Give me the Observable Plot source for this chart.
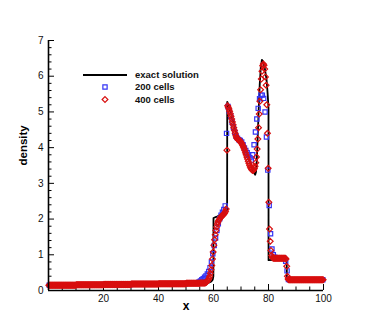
<!DOCTYPE html>
<html><head><meta charset="utf-8">
<script src="https://cdn.jsdelivr.net/npm/d3@7"></script>
<script src="https://cdn.jsdelivr.net/npm/@observablehq/plot@0.6"></script>
<style>body{margin:0;background:#fff} #chart{width:369px;height:328px}</style>
</head><body><div id="chart"></div>
<script>
// exact solution
const exactX = [0,10,20,30,40,50,55,57,58.3,59.2,59.7,59.95,60.0,61,62,63,64,64.95,65.0,65.3,66,67,68,69,70,71,72,73,74,74.7,75.15,75.45,75.75,76.05,76.4,76.8,77.2,77.6,78.0,78.6,79.3,79.7,80.0,80.02,82,84,86.6,86.7,100];
const exactY = [0.155,0.165,0.175,0.185,0.19,0.2,0.205,0.21,0.215,0.25,0.3,0.4,2.03,2.06,2.1,2.14,2.19,2.24,5.28,5.22,5.05,4.78,4.48,4.28,4.17,4.05,3.88,3.66,3.44,3.3,3.24,3.32,3.65,4.25,5.0,5.75,6.25,6.46,6.42,6.25,5.9,5.5,5.1,0.85,0.86,0.87,0.88,0.3,0.3];

// 200 cells: one density value per cell (cell centres on [0,100])
const cells200 = 200;
const y200 = [
.15,.15,.15,.15,.15,.15,.15,.15,.15,.15,.15,.15,.15,.15,.15,.15,.15,.15,.15,.15,
.16,.16,.16,.16,.16,.16,.16,.16,.16,.16,.16,.16,.16,.16,.16,.16,.16,.16,.16,.16,
.17,.17,.17,.17,.17,.17,.17,.17,.17,.17,.17,.17,.17,.17,.17,.17,.17,.17,.17,.17,
.18,.18,.18,.18,.18,.18,.18,.18,.18,.18,.18,.18,.18,.18,.18,.18,.18,.18,.18,.18,
.19,.19,.19,.19,.19,.19,.19,.19,.19,.19,.19,.19,.19,.19,.19,.19,.19,.19,.19,.19,
.20,.20,.20,.20,.20,.20,.20,.20,
.22,.24,.27,.30,.33,.37,.41,.46,.53,.64,.80,1.03,1.26,1.47,1.68,1.87,2.01,2.11,2.19,2.27,
2.37,4.40,5.15,5.02,4.88,4.72,4.57,4.43,4.32,4.26,4.22,4.20,4.16,4.08,3.99,3.92,3.86,3.79,3.72,3.65,
3.80,4.08,4.44,4.80,5.10,5.37,5.47,5.47,5.38,5.00,4.30,3.37,2.38,1.59,1.16,1.00,.93,
.90,.90,.90,.90,.90,.90,.90,
.82,.55,.31,
.30,.30,.30,.30,.30,.30,.30,.30,.30,.30,.30,.30,.30,.30,.30,.30,.30,.30,.30,.30,.30,.30,.30,.30,.30
];

// 400 cells
const cells400 = 400;
const y400 = [
.15,.15,.15,.15,.15,.15,.15,.15,.15,.15,.15,.15,.15,.15,.15,.15,.15,.15,.15,.15,
.15,.15,.15,.15,.15,.15,.15,.15,.15,.15,.15,.15,.15,.15,.15,.15,.15,.15,.15,.15,
.16,.16,.16,.16,.16,.16,.16,.16,.16,.16,.16,.16,.16,.16,.16,.16,.16,.16,.16,.16,
.16,.16,.16,.16,.16,.16,.16,.16,.16,.16,.16,.16,.16,.16,.16,.16,.16,.16,.16,.16,
.17,.17,.17,.17,.17,.17,.17,.17,.17,.17,.17,.17,.17,.17,.17,.17,.17,.17,.17,.17,
.17,.17,.17,.17,.17,.17,.17,.17,.17,.17,.17,.17,.17,.17,.17,.17,.17,.17,.17,.17,
.18,.18,.18,.18,.18,.18,.18,.18,.18,.18,.18,.18,.18,.18,.18,.18,.18,.18,.18,.18,
.18,.18,.18,.18,.18,.18,.18,.18,.18,.18,.18,.18,.18,.18,.18,.18,.18,.18,.18,.18,
.19,.19,.19,.19,.19,.19,.19,.19,.19,.19,.19,.19,.19,.19,.19,.19,.19,.19,.19,.19,
.19,.19,.19,.19,.19,.19,.19,.19,.19,.19,.19,.19,.19,.19,.19,.19,.19,.19,.19,.19,
.20,.20,.20,.20,.20,.20,.20,.20,.20,.20,.20,.20,.20,.20,.20,.20,.20,.20,.20,.20,
.21,.21,.21,.21,.21,.21,.21,.21,
.22,.23,.25,.27,.30,.34,.40,.48,.58,.70,.88,1.08,1.27,1.42,1.56,1.68,1.78,1.86,1.92,1.96,
1.99,2.02,2.05,2.07,2.09,2.11,2.13,2.15,2.18,2.22,2.28,3.93,
5.17,5.13,5.08,5.02,4.95,4.88,4.80,4.72,4.64,4.56,4.48,4.40,4.33,4.28,4.25,4.23,4.22,4.21,4.19,4.16,
4.13,4.10,4.06,4.02,3.97,3.92,3.86,3.80,3.74,3.68,3.62,3.56,3.51,3.46,3.42,3.39,3.37,3.36,3.38,3.42,
3.48,3.58,3.74,3.96,4.24,4.56,4.94,5.30,5.62,5.92,6.14,6.29,6.34,6.31,6.20,5.98,5.75,5.20,4.40,3.42,
2.47,1.72,1.38,1.12,.98,.93,.91,
.90,.90,.90,.90,.90,.90,.90,.90,.90,.90,.90,.90,.90,.90,.90,.90,.90,.90,
.88,.68,.40,.32,
.30,.30,.30,.30,.30,.30,.30,.30,.30,.30,.30,.30,.30,.30,.30,.30,.30,.30,.30,.30,
.30,.30,.30,.30,.30,.30,.30,.30,.30,.30,.30,.30,.30,.30,.30,.30,.30,.30,.30,.30,
.30,.30,.30,.30,.30,.30,.30,.30,.30,.30,.30
];

const xTicks = [20,40,60,80,100];
const xMinorTicks = [5,10,15,25,30,35,45,50,55,65,70,75,85,90,95];
const yTicks = [0,1,2,3,4,5,6,7];
const yMinorTicks = [0.2,0.4,0.6,0.8,1.2,1.4,1.6,1.8,2.2,2.4,2.6,2.8,3.2,3.4,3.6,3.8,4.2,4.4,4.6,4.8,5.2,5.4,5.6,5.8,6.2,6.4,6.6,6.8];
const seriesNames = ["exact solution","200 cells","400 cells"];

const exact = exactX.map((x,i)=>({x, y: exactY[i]}));
const d200 = y200.map((y,i)=>({x:(i+0.5)*100/cells200, y}));
const d400 = y400.map((y,i)=>({x:(i+0.5)*100/cells400, y}));

const W=369, H=328, mL=48, mR=46, mT=40, mB=38;
const pw=W-mL-mR, ph=H-mT-mB;
const BLUE="#3535f5", RED="#d80f0f";
const rSq=2.4, rDi=2.6;

const svg = Plot.plot({
  width:W, height:H, marginLeft:mL, marginRight:mR, marginTop:mT, marginBottom:mB,
  style:{fontFamily:"'Liberation Sans', Arial, sans-serif", fontSize:"10px", color:"#111", background:"#fff", overflow:"visible"},
  x:{domain:[0,100]}, y:{domain:[0,7]},
  marks:[
    Plot.axisX({ticks:xTicks, tickSize:0, tickPadding:4, label:null, tickFormat:"d"}),
    Plot.axisY({ticks:yTicks, tickSize:0, tickPadding:5, label:null, tickFormat:"d"}),
    Plot.tickX(xTicks, {x:d=>d, insetTop:ph-6, stroke:"#000", strokeWidth:1}),
    Plot.tickX(xMinorTicks, {x:d=>d, insetTop:ph-3.5, stroke:"#000", strokeWidth:1}),
    Plot.tickY(yTicks, {y:d=>d, insetRight:pw-6, stroke:"#000", strokeWidth:1}),
    Plot.tickY(yMinorTicks, {y:d=>d, insetRight:pw-3.5, stroke:"#000", strokeWidth:1}),
    Plot.line(exact, {x:"x", y:"y", stroke:"#000", strokeWidth:1.8}),
    Plot.dot(d200, {x:"x", y:"y", symbol:"square", r:rSq, stroke:BLUE, strokeWidth:1.2, fill:"none"}),
    Plot.dot(d400, {x:"x", y:"y", symbol:"diamond2", r:rDi, stroke:RED, strokeWidth:1.2, fill:"none"}),
    Plot.ruleX([0], {stroke:"#000", strokeWidth:1.6}),
    Plot.ruleY([0], {stroke:"#000", strokeWidth:1.6}),
    Plot.text(["x"], {frameAnchor:"bottom", dy:19, fontWeight:"bold", fontSize:12, fill:"#000"}),
    Plot.text(["density"], {frameAnchor:"left", dx:-25, rotate:-90, fontWeight:"bold", fontSize:11.5, fill:"#000"})
  ]
});
document.getElementById("chart").appendChild(svg);

// legend inside the plot area
const lg = d3.select(svg).append("g")
  .attr("font-family","'Liberation Sans', Arial, sans-serif")
  .attr("font-size","9.5px").attr("font-weight","bold").attr("fill","#111")
  .attr("text-anchor","start");
lg.append("line").attr("x1",83).attr("x2",127).attr("y1",75).attr("y2",75).attr("stroke","#000").attr("stroke-width",1.8);
lg.append("path").attr("d", d3.symbol(d3.symbolSquare, Math.PI*rSq*rSq)()).attr("transform","translate(105,87)")
  .attr("fill","none").attr("stroke",BLUE).attr("stroke-width",1.2);
lg.append("path").attr("d", d3.symbol(d3.symbolDiamond2, Math.PI*rDi*rDi)()).attr("transform","translate(105,99.5)")
  .attr("fill","none").attr("stroke",RED).attr("stroke-width",1.2);
[75,87,99.5].forEach((y,i)=>{
  lg.append("text").attr("x",135).attr("y",y).attr("dy","0.35em").attr("text-anchor","start").text(seriesNames[i]);
});
</script>
</body></html>
